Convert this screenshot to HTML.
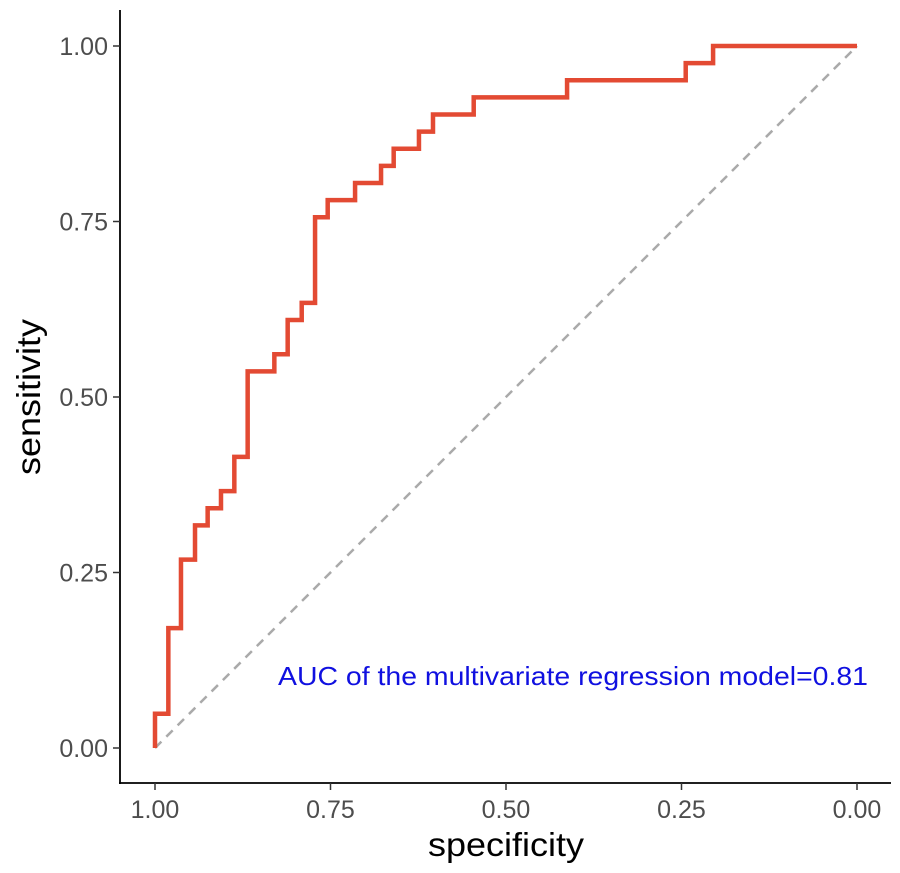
<!DOCTYPE html>
<html><head><meta charset="utf-8"><style>
body{margin:0;background:#fff;}
svg{display:block;font-family:"Liberation Sans",Arial,sans-serif;}
</style></head><body>
<svg id="chart" width="900" height="873" viewBox="0 0 900 873">
<g id="axes"></g>
<g id="marks"></g>
</svg>
<script>
const specSteps=[1.0,0.981,0.963,0.943,0.925,0.906,0.887,0.868,0.830,0.811,0.791,0.772,0.754,0.715,0.678,0.660,0.624,0.604,0.546,0.413,0.244,0.205];
const sensSteps=[2/41,7/41,11/41,13/41,14/41,15/41,17/41,22/41,23/41,25/41,26/41,31/41,32/41,33/41,34/41,35/41,36/41,37/41,38/41,39/41,40/41,1.0];
const tickValues=[0,0.25,0.5,0.75,1];
const tickLabels=["0.00","0.25","0.50","0.75","1.00"];
const xScale=v=>857-v*702;
const yScale=v=>748-v*702;
const NS="http://www.w3.org/2000/svg";
const axes=document.getElementById('axes'),marks=document.getElementById('marks');
function mk(p,tag,attrs){const e=document.createElementNS(NS,tag);for(const k in attrs)e.setAttribute(k,attrs[k]);p.appendChild(e);return e;}
let e=mk(axes,'line',{x1:120,y1:10,x2:120,y2:784,stroke:'#000','stroke-width':1.8});


e=mk(axes,'line',{x1:119,y1:783,x2:891,y2:783,stroke:'#000','stroke-width':1.8});


tickValues.forEach((v,i)=>{
  let t=mk(axes,'line',{x1:113,x2:120,y1:yScale(v),y2:yScale(v),stroke:'#333','stroke-width':1.5});
  
  
  let l=mk(axes,'text',{x:108,y:yScale(v)+9,'text-anchor':'end','font-size':25,fill:'#4d4d4d'});l.textContent=tickLabels[i];
  
  
  t=mk(axes,'line',{x1:xScale(v),x2:xScale(v),y1:783,y2:790,stroke:'#333','stroke-width':1.5});
  
  
  l=mk(axes,'text',{x:xScale(v),y:818,'text-anchor':'middle','font-size':25,fill:'#4d4d4d'});l.textContent=tickLabels[i];
  
  
});
let tt=mk(axes,'text',{x:428,y:856,'font-size':33,fill:'#000',textLength:156,lengthAdjust:'spacingAndGlyphs'});tt.textContent='specificity';


tt=mk(axes,'text',{x:0,y:0,'font-size':33,fill:'#000',textLength:156,lengthAdjust:'spacingAndGlyphs',transform:'translate(40,475) rotate(-90)'});tt.textContent='sensitivity';


let d=mk(marks,'line',{x1:xScale(1),y1:yScale(0),x2:xScale(0),y2:yScale(1),stroke:'#aaaaaa','stroke-width':2.5,'stroke-dasharray':'9,7'});


let path='M'+xScale(1)+','+yScale(0);
for(let i=0;i<specSteps.length;i++){
  path+=' L'+xScale(specSteps[i])+','+(i===0?yScale(0):yScale(sensSteps[i-1]));
  path+=' L'+xScale(specSteps[i])+','+yScale(sensSteps[i]);
}
path+=' L'+xScale(0)+','+yScale(1);
let r=mk(marks,'path',{d:path,fill:'none',stroke:'#e34a33','stroke-width':4.5,'stroke-linejoin':'miter'});


let a=mk(marks,'text',{x:278,y:685,'font-size':26,fill:'#1010e0',textLength:590,lengthAdjust:'spacingAndGlyphs'});a.textContent='AUC of  the multivariate regression model=0.81';


</script>
</body></html>
